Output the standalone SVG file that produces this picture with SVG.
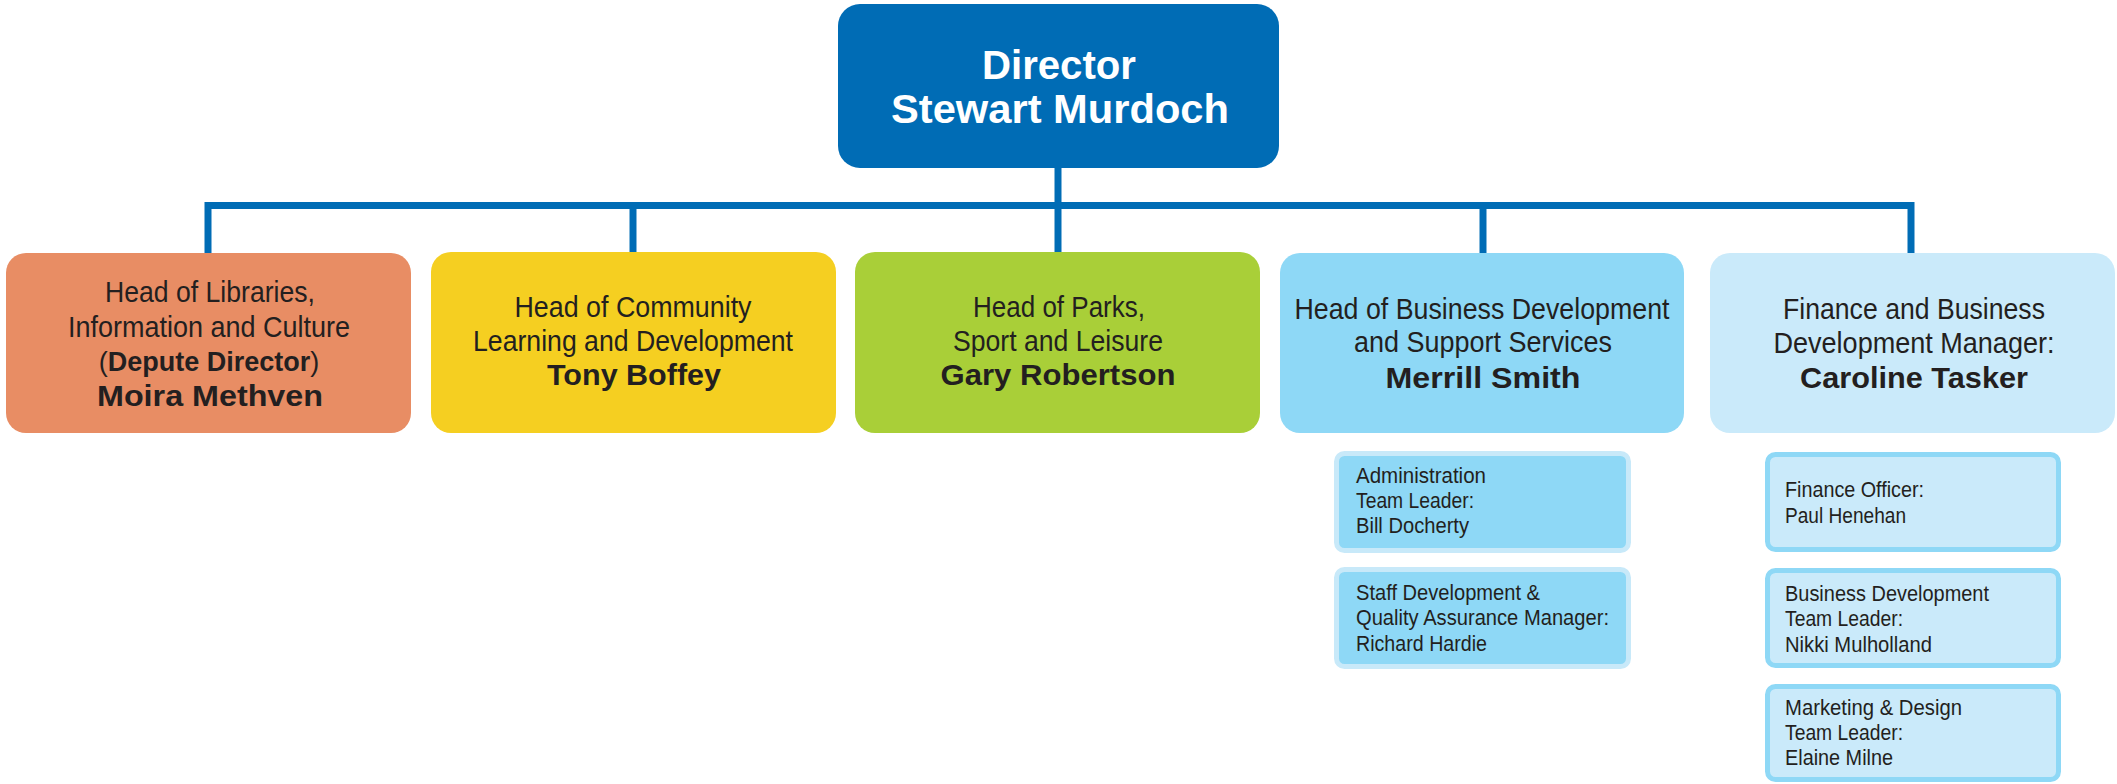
<svg xmlns="http://www.w3.org/2000/svg" width="2117" height="784" viewBox="0 0 2117 784">
  <style>
    .t { font-family: "Liberation Sans", Arial, sans-serif; fill: #231f20; text-anchor: middle; }
    .r { font-size: 29px; }
    .b { font-size: 30px; font-weight: bold; }
    .w { font-family: "Liberation Sans", Arial, sans-serif; fill: #ffffff; font-size: 41px; font-weight: bold; text-anchor: middle; }
    .s { font-family: "Liberation Sans", Arial, sans-serif; fill: #231f20; font-size: 22px; }
    .link { fill: none; stroke: #006cb5; stroke-width: 7; }
    .subA { fill: #8ed8f6; stroke: #c8e9f9; stroke-width: 5; }
    .subB { fill: #caeafa; stroke: #8ed8f6; stroke-width: 5; }
  </style>

  <!-- connectors -->
  <g id="connectors">
    <path class="link" d="M1058 168 V253"/>
    <path class="link" d="M208 253 V205.5 H1911 V253"/>
    <path class="link" d="M633 205.5 V253"/>
    <path class="link" d="M1483 205.5 V253"/>
  </g>

  <!-- director -->
  <g id="director">
    <rect x="838" y="4" width="441" height="164" rx="22" fill="#006cb5"/>
    <text class="w" x="1059" y="79" textLength="154" lengthAdjust="spacingAndGlyphs">Director</text>
    <text class="w" x="1060" y="123" textLength="338" lengthAdjust="spacingAndGlyphs">Stewart Murdoch</text>
  </g>

  <!-- libraries -->
  <g id="libraries">
    <rect x="6" y="253" width="405" height="180" rx="20" fill="#e88d64"/>
    <text class="t r" x="210" y="302" textLength="210" lengthAdjust="spacingAndGlyphs">Head of Libraries,</text>
    <text class="t r" x="209" y="337" textLength="282" lengthAdjust="spacingAndGlyphs">Information and Culture</text>
    <text class="t" x="209" y="371" font-size="27">(<tspan font-weight="bold">Depute Director</tspan>)</text>
    <text class="t b" x="210" y="406" textLength="226" lengthAdjust="spacingAndGlyphs">Moira Methven</text>
  </g>

  <!-- community learning -->
  <g id="community">
    <rect x="431" y="252" width="405" height="181" rx="20" fill="#f5cf21"/>
    <text class="t r" x="633" y="317" textLength="237" lengthAdjust="spacingAndGlyphs">Head of Community</text>
    <text class="t r" x="633" y="351" textLength="320" lengthAdjust="spacingAndGlyphs">Learning and Development</text>
    <text class="t b" x="634" y="385" textLength="174" lengthAdjust="spacingAndGlyphs">Tony Boffey</text>
  </g>

  <!-- parks -->
  <g id="parks">
    <rect x="855" y="252" width="405" height="181" rx="20" fill="#a9cf38"/>
    <text class="t r" x="1059" y="317" textLength="172" lengthAdjust="spacingAndGlyphs">Head of Parks,</text>
    <text class="t r" x="1058" y="351" textLength="210" lengthAdjust="spacingAndGlyphs">Sport and Leisure</text>
    <text class="t b" x="1058" y="385" textLength="235" lengthAdjust="spacingAndGlyphs">Gary Robertson</text>
  </g>

  <!-- business development -->
  <g id="business">
    <rect x="1280" y="253" width="404" height="180" rx="20" fill="#8ed8f6"/>
    <text class="t r" x="1482" y="319" textLength="375" lengthAdjust="spacingAndGlyphs">Head of Business Development</text>
    <text class="t r" x="1483" y="352" textLength="258" lengthAdjust="spacingAndGlyphs">and Support Services</text>
    <text class="t b" x="1483" y="388" textLength="195" lengthAdjust="spacingAndGlyphs">Merrill Smith</text>
  </g>

  <!-- finance manager -->
  <g id="finance">
    <rect x="1710" y="253" width="405" height="180" rx="20" fill="#caeafa"/>
    <text class="t r" x="1914" y="319" textLength="262" lengthAdjust="spacingAndGlyphs">Finance and Business</text>
    <text class="t r" x="1914" y="353" textLength="281" lengthAdjust="spacingAndGlyphs">Development Manager:</text>
    <text class="t b" x="1914" y="388" textLength="228" lengthAdjust="spacingAndGlyphs">Caroline Tasker</text>
  </g>

  <!-- support services teams -->
  <g id="admin">
    <rect class="subA" x="1336.5" y="453.5" width="292" height="97" rx="8"/>
    <text class="s" x="1356" y="483" textLength="130" lengthAdjust="spacingAndGlyphs">Administration</text>
    <text class="s" x="1356" y="508" textLength="118" lengthAdjust="spacingAndGlyphs">Team Leader:</text>
    <text class="s" x="1356" y="533" textLength="113" lengthAdjust="spacingAndGlyphs">Bill Docherty</text>
  </g>
  <g id="staff-dev">
    <rect class="subA" x="1336.5" y="569.5" width="292" height="97" rx="8"/>
    <text class="s" x="1356" y="600" textLength="184" lengthAdjust="spacingAndGlyphs">Staff Development &amp;</text>
    <text class="s" x="1356" y="625" textLength="253" lengthAdjust="spacingAndGlyphs">Quality Assurance Manager:</text>
    <text class="s" x="1356" y="651" textLength="131" lengthAdjust="spacingAndGlyphs">Richard Hardie</text>
  </g>

  <!-- finance teams -->
  <g id="finance-officer">
    <rect class="subB" x="1767.5" y="454.5" width="291" height="95" rx="8"/>
    <text class="s" x="1785" y="497" textLength="139" lengthAdjust="spacingAndGlyphs">Finance Officer:</text>
    <text class="s" x="1785" y="523" textLength="121" lengthAdjust="spacingAndGlyphs">Paul Henehan</text>
  </g>
  <g id="bd-team">
    <rect class="subB" x="1767.5" y="570.5" width="291" height="95" rx="8"/>
    <text class="s" x="1785" y="601" textLength="204" lengthAdjust="spacingAndGlyphs">Business Development</text>
    <text class="s" x="1785" y="626" textLength="118" lengthAdjust="spacingAndGlyphs">Team Leader:</text>
    <text class="s" x="1785" y="652" textLength="147" lengthAdjust="spacingAndGlyphs">Nikki Mulholland</text>
  </g>
  <g id="marketing">
    <rect class="subB" x="1767.5" y="686.5" width="291" height="93" rx="8"/>
    <text class="s" x="1785" y="715" textLength="177" lengthAdjust="spacingAndGlyphs">Marketing &amp; Design</text>
    <text class="s" x="1785" y="740" textLength="118" lengthAdjust="spacingAndGlyphs">Team Leader:</text>
    <text class="s" x="1785" y="765" textLength="108" lengthAdjust="spacingAndGlyphs">Elaine Milne</text>
  </g>
</svg>
